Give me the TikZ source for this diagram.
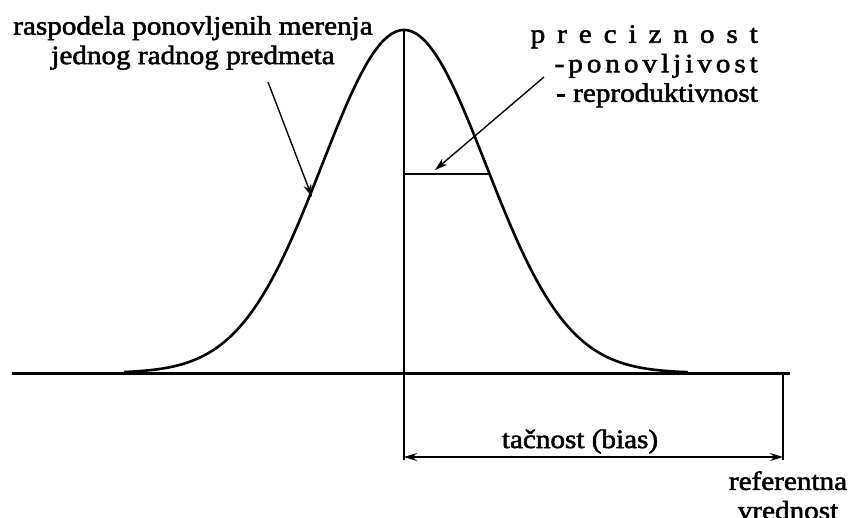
\documentclass[tikz,border=0pt]{standalone}
\usepackage{fontspec}
\setmainfont{Liberation Serif}[FakeStretch=1.1, FakeBold=2]
\usetikzlibrary{arrows.meta}
\tikzset{
  lbl/.style={inner sep=0pt, font=\fontsize{26.5}{29.5}\selectfont},
  curve/.style={line width=2.6pt},
  axis/.style={line width=3pt},
  thin/.style={line width=1.8pt},
  pointer/.style={line width=1.4pt, -{Stealth[length=13pt,width=8pt]}},
  dim/.style={line width=1.4pt, {Stealth[length=13pt,width=8pt]}-{Stealth[length=13pt,width=8pt]}}
}
\begin{document}
\begin{tikzpicture}[x=1pt,y=-1pt]
\useasboundingbox (0,0) rectangle (850,517);
% coordinates
\coordinate (axL) at (12,373);
\coordinate (axR) at (790,373);
\coordinate (peak) at (404,30);
\coordinate (vbot) at (404,460);
\coordinate (rtop) at (783,373);
\coordinate (rbot) at (783,460);
\coordinate (dimL) at (404,457);
\coordinate (dimR) at (783,457);
\coordinate (hL) at (404,174);
\coordinate (hR) at (490,174);
\coordinate (tipL) at (312,197);
\coordinate (tipR) at (435,170);
\coordinate (sL) at (268,82);
\coordinate (sR) at (544,77);
% gaussian
\draw[curve] plot[domain=124:688, samples=220, smooth] (\x, {373 - 343*exp(-0.5*((\x-404)/82)^2)});
\draw[axis] (axL) -- (axR);
\draw[thin] (peak) -- (vbot);
\draw[thin] (rtop) -- (rbot);
\draw[curve] (hL) -- (hR);
% labels
\node[lbl, align=center, anchor=north] (raspo) at (193,16) {raspodela ponovljenih merenja\\jednog radnog predmeta};
\node[lbl, align=right, anchor=north east] (prec) at (758,25)
  {{\addfontfeature{LetterSpace=45}preciznost}\\{\addfontfeature{LetterSpace=15}-ponovljivost}\\- reproduktivnost};
\node[lbl, anchor=base] (tacn) at (580,448) {tačnost (bias)};
\node[lbl, align=center, anchor=north] (ref) at (788,471) {referentna\\vrednost};
% connectors
\draw[pointer] (sL) -- (tipL);
\draw[pointer] (sR) -- (tipR);
\draw[dim] (dimL) -- (dimR);
\end{tikzpicture}
\end{document}
